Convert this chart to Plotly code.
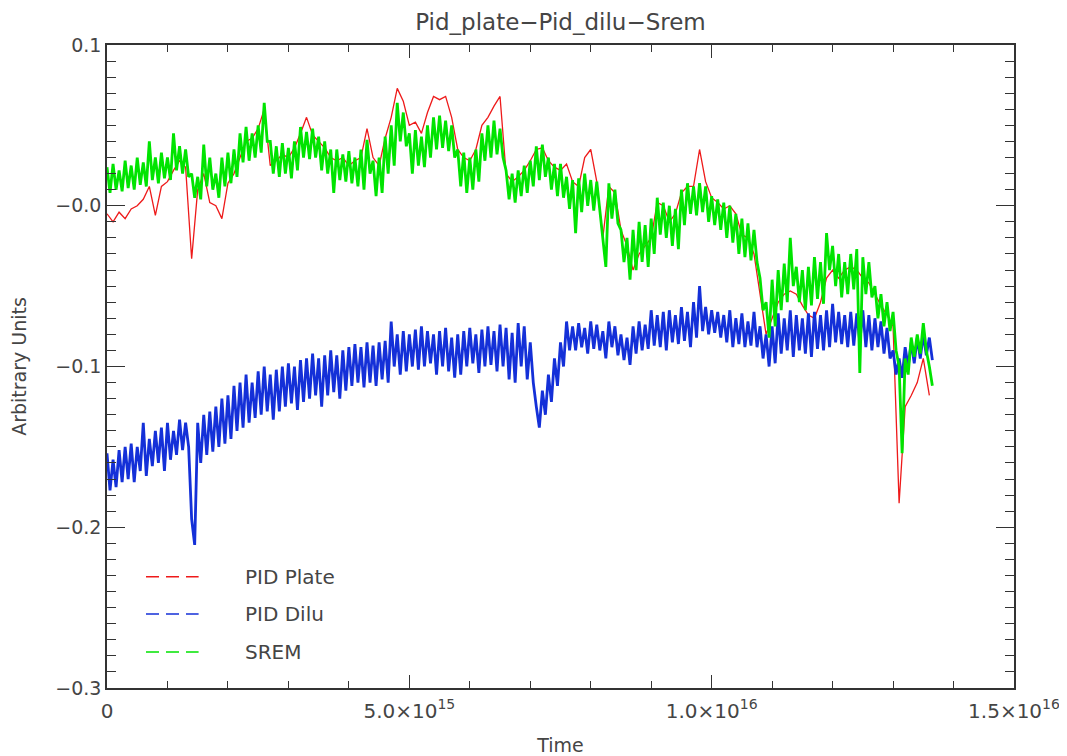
import numpy as np
import plotly.graph_objects as go

# ---- data (time in units of 1e15) ----
# SREM (green): samples every 0.05e15, alternating upper / lower excursions
SREM = [
    0.024, 0.008, 0.026, 0.010, 0.022, 0.009, 0.028, 0.011, 0.025, 0.010,
    0.030, 0.013, 0.027, 0.012, 0.040, 0.016, 0.030, 0.014, 0.033, 0.017,
    0.030, 0.016, 0.045, 0.022, 0.037, 0.020, 0.035, 0.018, 0.020, 0.005,
    0.018, 0.004, 0.038, 0.012, 0.030, 0.010, 0.020, 0.005, 0.030, 0.012,
    0.033, 0.014, 0.035, 0.018, 0.045, 0.027, 0.049, 0.028, 0.045, 0.030,
    0.050, 0.033, 0.064, 0.040, 0.040, 0.020, 0.037, 0.018, 0.039, 0.020,
    0.036, 0.017, 0.040, 0.022, 0.049, 0.030, 0.046, 0.029, 0.048, 0.030,
    0.043, 0.022, 0.040, 0.020, 0.035, 0.008, 0.035, 0.016, 0.032, 0.015,
    0.034, 0.014, 0.030, 0.012, 0.035, 0.010, 0.041, 0.020, 0.028, 0.006,
    0.030, 0.008, 0.043, 0.020, 0.050, 0.025, 0.064, 0.040, 0.058, 0.037,
    0.045, 0.020, 0.047, 0.025, 0.043, 0.024, 0.050, 0.030, 0.055, 0.035,
    0.056, 0.036, 0.053, 0.034, 0.050, 0.030, 0.035, 0.012, 0.033, 0.008,
    0.030, 0.010, 0.035, 0.015, 0.045, 0.028, 0.050, 0.030, 0.053, 0.032,
    0.048, 0.030, 0.022, 0.004, 0.020, 0.002, 0.022, 0.006, 0.025, 0.008,
    0.028, 0.012, 0.037, 0.016, 0.038, 0.018, 0.030, 0.010, 0.026, 0.006,
    0.026, 0.005, 0.018, -0.002, 0.016, -0.017, 0.017, -0.004, 0.020, 0.000,
    0.016, -0.003, 0.015, -0.004, -0.022, -0.038, 0.014, -0.008, 0.010, -0.011,
    -0.015, -0.035, -0.020, -0.046, -0.015, -0.040, -0.010, -0.035, -0.012, -0.038,
    -0.008, -0.030, 0.005, -0.018, 0.002, -0.020, 0.000, -0.025, -0.002, -0.027,
    0.010, -0.012, 0.014, -0.005, 0.012, -0.006, 0.014, -0.004, 0.012, -0.010,
    0.006, -0.012, 0.004, -0.015, 0.002, -0.020, 0.000, -0.023, -0.005, -0.030,
    -0.008, -0.032, -0.011, -0.034, -0.015, -0.035, -0.045, -0.065, -0.060, -0.082,
    -0.046, -0.075, -0.040, -0.065, -0.036, -0.060, -0.020, -0.050, -0.038, -0.060,
    -0.040, -0.065, -0.038, -0.062, -0.032, -0.058, -0.035, -0.061, -0.017, -0.040,
    -0.025, -0.050, -0.030, -0.057, -0.035, -0.055, -0.030, -0.052, -0.027, -0.104,
    -0.032, -0.055, -0.035, -0.057, -0.050, -0.070, -0.055, -0.075, -0.060, -0.078,
    -0.066, -0.090, -0.100, -0.154, -0.095, -0.105, -0.082, -0.094, -0.080, -0.092,
    -0.073, -0.090, -0.100, -0.112,
]

# PID Dilu (blue): samples every 0.05e15, alternating upper / lower excursions
PID_DILU = [
    -0.154, -0.177, -0.158, -0.175, -0.152, -0.172, -0.150, -0.170, -0.148, -0.172,
    -0.150, -0.165, -0.135, -0.168, -0.145, -0.162, -0.140, -0.160, -0.138, -0.165,
    -0.135, -0.158, -0.140, -0.155, -0.133, -0.152, -0.135, -0.150, -0.195, -0.211,
    -0.135, -0.160, -0.130, -0.155, -0.128, -0.153, -0.125, -0.150, -0.120, -0.148,
    -0.118, -0.145, -0.112, -0.140, -0.110, -0.138, -0.105, -0.135, -0.110, -0.132,
    -0.103, -0.130, -0.100, -0.128, -0.105, -0.133, -0.102, -0.128, -0.100, -0.125,
    -0.098, -0.123, -0.100, -0.127, -0.096, -0.122, -0.095, -0.120, -0.092, -0.118,
    -0.095, -0.125, -0.093, -0.118, -0.090, -0.116, -0.093, -0.120, -0.090, -0.115,
    -0.088, -0.112, -0.086, -0.110, -0.088, -0.113, -0.085, -0.110, -0.087, -0.112,
    -0.085, -0.108, -0.084, -0.110, -0.072, -0.100, -0.080, -0.105, -0.078, -0.103,
    -0.080, -0.100, -0.077, -0.102, -0.075, -0.100, -0.078, -0.098, -0.080, -0.105,
    -0.078, -0.100, -0.076, -0.103, -0.082, -0.107, -0.080, -0.105, -0.078, -0.100,
    -0.076, -0.098, -0.080, -0.104, -0.077, -0.100, -0.075, -0.099, -0.078, -0.103,
    -0.074, -0.100, -0.076, -0.108, -0.079, -0.110, -0.073, -0.100, -0.075, -0.108,
    -0.085, -0.110, -0.125, -0.138, -0.115, -0.130, -0.105, -0.122, -0.095, -0.112,
    -0.085, -0.100, -0.072, -0.090, -0.075, -0.090, -0.073, -0.088, -0.076, -0.092,
    -0.072, -0.089, -0.074, -0.090, -0.078, -0.095, -0.072, -0.088, -0.075, -0.093,
    -0.080, -0.096, -0.082, -0.099, -0.075, -0.092, -0.072, -0.090, -0.074, -0.089,
    -0.065, -0.087, -0.068, -0.088, -0.066, -0.090, -0.065, -0.085, -0.068, -0.086,
    -0.063, -0.084, -0.066, -0.088, -0.060, -0.082, -0.050, -0.078, -0.063, -0.080,
    -0.065, -0.079, -0.066, -0.082, -0.068, -0.085, -0.065, -0.088, -0.070, -0.086,
    -0.067, -0.088, -0.072, -0.087, -0.066, -0.088, -0.075, -0.095, -0.080, -0.100,
    -0.075, -0.098, -0.067, -0.092, -0.070, -0.090, -0.065, -0.094, -0.068, -0.090,
    -0.070, -0.092, -0.067, -0.094, -0.066, -0.089, -0.068, -0.090, -0.065, -0.088,
    -0.061, -0.085, -0.066, -0.086, -0.068, -0.088, -0.066, -0.087, -0.067, -0.085,
    -0.065, -0.088, -0.068, -0.090, -0.070, -0.088, -0.072, -0.092, -0.076, -0.095,
    -0.090, -0.105, -0.095, -0.107, -0.088, -0.100, -0.085, -0.098, -0.082, -0.095,
    -0.080, -0.093, -0.082, -0.096,
]

# PID Plate (red): samples every 0.1e15
PID_PLATE = [
    -0.005, -0.010, -0.004, -0.008, -0.002, 0.000, 0.004, 0.012, -0.006, 0.012,
    0.015, 0.022, 0.028, 0.024, -0.033, 0.010, 0.020, 0.002, 0.000, -0.008,
    0.014, 0.020, 0.030, 0.040, 0.042, 0.048, 0.060, 0.025, 0.028, 0.032,
    0.030, 0.036, 0.045, 0.055, 0.044, 0.040, 0.036, 0.030, 0.028, 0.030,
    0.025, 0.028, 0.030, 0.048, 0.030, 0.025, 0.042, 0.055, 0.073, 0.065,
    0.050, 0.052, 0.045, 0.058, 0.068, 0.066, 0.068, 0.055, 0.035, 0.030,
    0.028, 0.035, 0.050, 0.055, 0.062, 0.068, 0.020, 0.015, 0.018, 0.022,
    0.028, 0.035, 0.036, 0.028, 0.024, 0.022, 0.026, 0.015, 0.012, 0.030,
    0.035, 0.015, -0.020, 0.012, 0.008, -0.015, -0.025, -0.040, -0.030, -0.025,
    -0.020, 0.002, 0.000, -0.010, -0.005, 0.008, 0.012, 0.012, 0.035, 0.015,
    0.005, 0.002, -0.002, 0.000, -0.005, -0.018, -0.020, -0.030, -0.055, -0.080,
    -0.070, -0.060, -0.055, -0.053, -0.055, -0.062, -0.068, -0.070, -0.060, -0.045,
    -0.040, -0.045, -0.040, -0.038, -0.040, -0.045, -0.048, -0.055, -0.062, -0.068,
    -0.075, -0.185, -0.125, -0.118, -0.110, -0.095, -0.118,
]

FINE_STEP = 0.05e15
COARSE_STEP = 0.1e15

X_TICKS = [0, 5e15, 1e16, 1.5e16]
X_TICKTEXT = ["0", "5.0×10<sup>15</sup>", "1.0×10<sup>16</sup>", "1.5×10<sup>16</sup>"]
Y_TICKS = [-0.3, -0.2, -0.1, 0.0, 0.1]
Y_TICKTEXT = ["−0.3", "−0.2", "−0.1", "−0.0", "0.1"]

LEGEND_NAMES = ["PID Plate", "PID Dilu", "SREM"]
COLORS = ["#ee1a1a", "#1430d8", "#00e400"]

t_fine = np.arange(len(SREM)) * FINE_STEP
t_fine_b = np.arange(len(PID_DILU)) * FINE_STEP
t_coarse = np.arange(len(PID_PLATE)) * COARSE_STEP

TXT = "#454545"
FONT = "DejaVu Sans"

fig = go.Figure()
fig.add_trace(go.Scatter(x=t_coarse, y=PID_PLATE, mode="lines", name=LEGEND_NAMES[0],
                         line=dict(color=COLORS[0], width=1.3), showlegend=False))
fig.add_trace(go.Scatter(x=t_fine_b, y=PID_DILU, mode="lines", name=LEGEND_NAMES[1],
                         line=dict(color=COLORS[1], width=2.8), showlegend=False))
fig.add_trace(go.Scatter(x=t_fine, y=SREM, mode="lines", name=LEGEND_NAMES[2],
                         line=dict(color=COLORS[2], width=2.8), showlegend=False))

# manual legend (IDL style: dashed sample line + label)
legend_y = [0.173, 0.115, 0.056]
shapes = []
annotations = []
for name, col, yy in zip(LEGEND_NAMES, COLORS, legend_y):
    shapes.append(dict(type="line", xref="paper", yref="paper", x0=0.043, x1=0.101,
                       y0=yy, y1=yy, line=dict(color=col, width=1.5, dash="13px,7px")))
    annotations.append(dict(text=name, xref="paper", yref="paper", x=0.150, y=yy,
                            xanchor="left", yanchor="middle", showarrow=False,
                            font=dict(family=FONT, size=20, color=TXT)))

axis_common = dict(
    showgrid=False, zeroline=False, showline=True, linecolor="#333333", linewidth=1.5,
    mirror="ticks", ticks="inside", tickcolor="#333333", tickwidth=1.2,
    automargin=False,
)

# the page body adds an 8px offset, so the figure is sized/margined to compensate
fig.update_layout(
    width=1059, height=748,
    margin=dict(l=99, r=53, t=37, b=68),
    paper_bgcolor="white", plot_bgcolor="white",
    title=dict(text="Pid_plate−Pid_dilu−Srem", xref="paper", x=0.5, xanchor="center",
               y=0.981, yanchor="middle", font=dict(family=FONT, size=23, color=TXT)),
    xaxis=dict(**axis_common, range=[0, 1.5e16], tickvals=X_TICKS, ticktext=X_TICKTEXT,
               tickfont=dict(family=FONT, size=20, color=TXT),
               ticklen=13, ticklabelstandoff=4,
               minor=dict(dtick=1e15, ticks="inside", ticklen=7,
                          tickcolor="#333333", showgrid=False),
               title=dict(text="Time", font=dict(family=FONT, size=19, color=TXT), standoff=17)),
    yaxis=dict(**axis_common, range=[-0.3, 0.1], tickvals=Y_TICKS, ticktext=Y_TICKTEXT,
               tickfont=dict(family=FONT, size=19, color=TXT),
               ticklen=18, minor=dict(dtick=0.01, tick0=0, ticks="inside", ticklen=9,
                                      tickcolor="#333333", showgrid=False),
               title=dict(text="Arbitrary Units", font=dict(family=FONT, size=19, color=TXT),
                          standoff=30)),
    shapes=shapes,
    annotations=annotations,
)

fig.write_html("out.html")
